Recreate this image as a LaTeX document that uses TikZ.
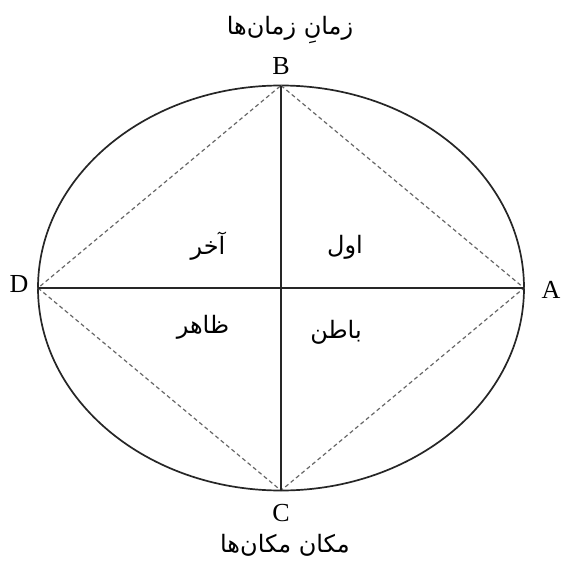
\documentclass[tikz,border=0pt]{standalone}
\usepackage{fontspec}
\setmainfont{Liberation Serif}
\newfontfamily\arabicfont[Script=Arabic]{DejaVu Sans}
\TeXXeTstate=1
\usetikzlibrary{shapes.geometric}
\begin{document}
\begin{tikzpicture}[x=1pt,y=-1pt,
  latin/.style={font=\fontsize{26}{28}\selectfont, inner sep=0pt},
  fa/.style={font=\arabicfont\fontsize{24}{28}\selectfont, inner sep=0pt},
  solidline/.style={line width=1.5pt, black!85},
  axisline/.style={line width=2pt, black!85},
  dashline/.style={line width=1.2pt, black!60, dash pattern=on 4pt off 3pt}]
\useasboundingbox[fill=white] (0,0) rectangle (563,562);
\node[draw, ellipse, line width=1.7pt, black!85, minimum width=486pt, minimum height=405pt, inner sep=0pt, outer sep=0pt] (e) at (281,288) {};
\coordinate (A) at (e.east);
\coordinate (B) at (e.north);
\coordinate (C) at (e.south);
\coordinate (D) at (e.west);
\draw[dashline] (B) -- (A) -- (C) -- (D) -- cycle;
\draw[axisline] (D) -- (A);
\draw[solidline] (B) -- (C);
\node[latin] (lA) at (551,290) {A};
\node[latin] (lB) at (281,66) {B};
\node[latin] (lC) at (281,513) {C};
\node[latin] (lD) at (19,284) {D};
\node[fa] (top) at (290,30) {\beginR زمانِ زمان‌ها\endR};
\node[fa] (bottom) at (285,545) {\beginR مکان مکان‌ها\endR};
\node[fa] (q1) at (345,247) {\beginR اول\endR};
\node[fa] (q2) at (208,246) {\beginR آخر\endR};
\node[fa] (q3) at (203,327) {\beginR ظاهر\endR};
\node[fa] (q4) at (336,332) {\beginR باطن\endR};
\end{tikzpicture}
\end{document}
